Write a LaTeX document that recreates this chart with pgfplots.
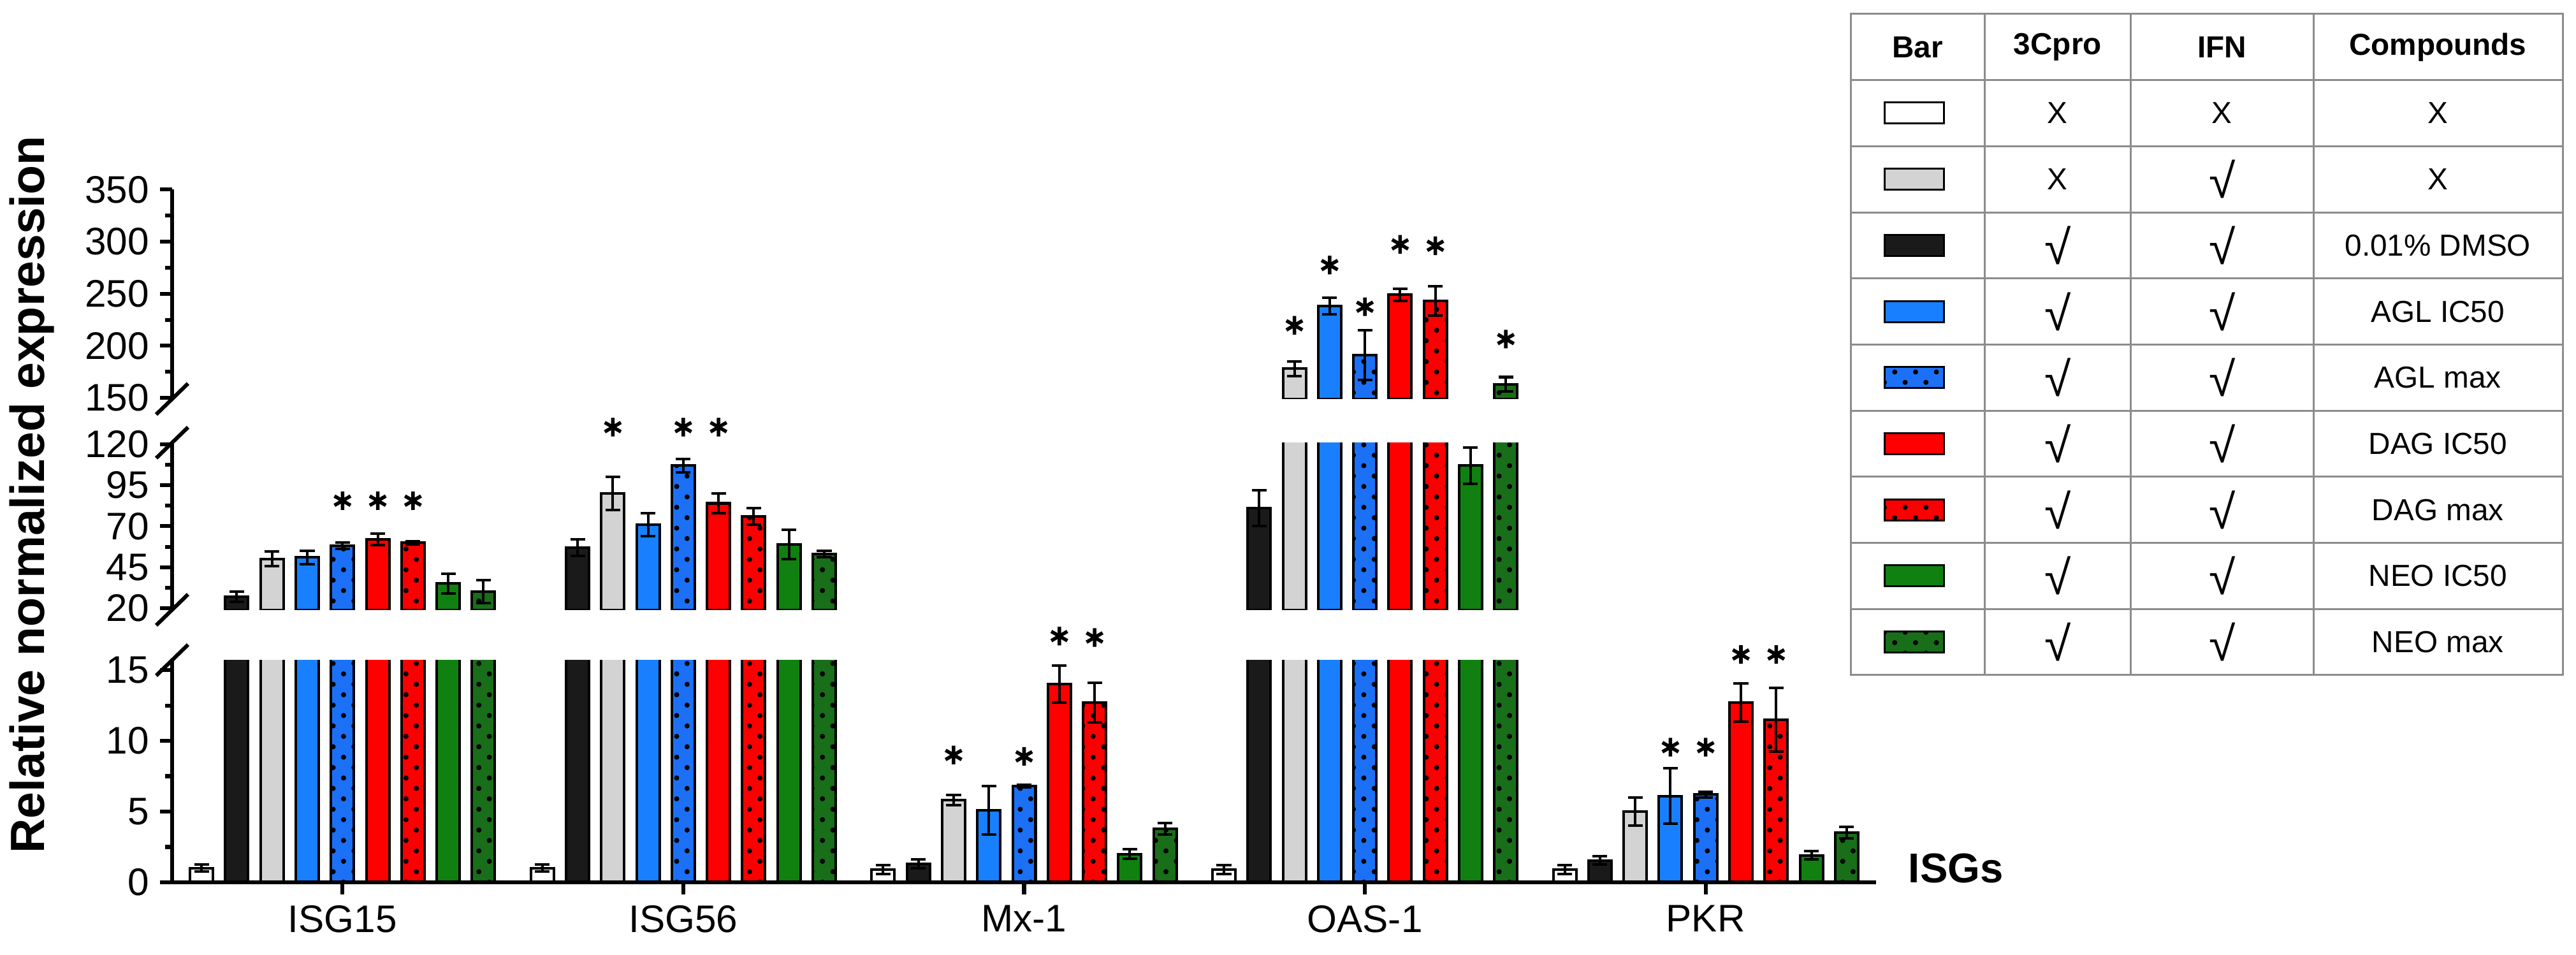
\documentclass[border=0pt]{standalone}
\usepackage{fontspec}
\setmainfont{Liberation Sans}
\usepackage{pgfplots}
\pgfplotsset{compat=1.18}
\usepackage{pgfplotstable}
\usetikzlibrary{patterns.meta}

\definecolor{cwhite}{RGB}{255,255,255}
\definecolor{cblack}{RGB}{26,26,26}
\definecolor{cgray}{RGB}{211,211,211}
\definecolor{cblue}{RGB}{24,128,255}
\definecolor{cbluedot}{RGB}{28,112,245}
\definecolor{cred}{RGB}{255,0,0}
\definecolor{creddot}{RGB}{250,0,0}
\definecolor{cgreen}{RGB}{16,128,16}
\definecolor{cgreendot}{RGB}{25,110,25}
\definecolor{tgray}{RGB}{140,140,140}

% values (v) and error (e) for the nine bars of each gene
\pgfplotstableread{
g  v0   e0    v1   e1   v2    e2    v3   e3   v4   e4   v5    e5    v6    e6   v7   e7    v8   e8
0  1.0  0.25  27   3    50    4.5   51   4    58   2    62    3.5   60    1    35   6     30   7
1  1.0  0.25  57   5    90    10    71   7    107  4    84    6     76    5    59   9     53   2
2  0.9  0.3   1.3  0.3  5.8   0.35  5.1  1.7  6.8  0.1  14.0  1.3   12.7  1.4  2.0  0.35  3.8  0.4
3  0.9  0.3   81   11   178   7     238  8    191  24   249   6     243   14   107  11    163  7
4  0.9  0.3   1.55 0.3  5.0   1.0   6.1  1.95 6.2  0.2  12.7  1.35  11.5  2.25 1.9  0.3   3.5  0.4
}\datatable

\pgfplotsset{
  bb/.style={ybar, bar width=0.0673, bar shift=0pt, draw=black, line width=0.8pt,
    /pgfplots/error bars/y dir=both, /pgfplots/error bars/y explicit,
    /pgfplots/error bars/error bar style={line width=0.8pt, black, solid},
    /pgfplots/error bars/error mark options={rotate=90, mark size=2.3pt, line width=0.8pt, black}},
  dotbar/.style={postaction={pattern={Dots[distance=4.6pt, radius=0.8pt, angle=45]}, pattern color=black}},
  seg/.style={scale only axis, width=18.711cm, xmin=-0.5, xmax=4.5,
    axis y line*=left, axis line style={-, line width=1.2pt, black},
    tick style={line width=1.2pt, black}, tick align=outside,
    major tick length=0.13cm, minor tick length=0.08cm,
    tick label style={font=\fontsize{12}{12}\selectfont},
    /pgf/number format/assume math mode=true},
  ov/.style={scale only axis, width=18.711cm, xmin=-0.5, xmax=4.5, hide axis, clip=false},
  ast/.style={only marks, mark=asterisk, mark size=2.9pt, mark options={line width=1.1pt, black}},
}

\newcommand{\bars}{%
\addplot[bb, fill=cwhite] table[x expr=\thisrow{g}-0.4136, y=v0, y error=e0]{\datatable};
\addplot[bb, fill=cblack] table[x expr=\thisrow{g}-0.3102, y=v1, y error=e1]{\datatable};
\addplot[bb, fill=cgray] table[x expr=\thisrow{g}-0.2068, y=v2, y error=e2]{\datatable};
\addplot[bb, fill=cblue] table[x expr=\thisrow{g}-0.1034, y=v3, y error=e3]{\datatable};
\addplot[bb, fill=cbluedot, dotbar] table[x expr=\thisrow{g}, y=v4, y error=e4]{\datatable};
\addplot[bb, fill=cred] table[x expr=\thisrow{g}+0.1034, y=v5, y error=e5]{\datatable};
\addplot[bb, fill=creddot, dotbar] table[x expr=\thisrow{g}+0.2068, y=v6, y error=e6]{\datatable};
\addplot[bb, fill=cgreen] table[x expr=\thisrow{g}+0.3102, y=v7, y error=e7]{\datatable};
\addplot[bb, fill=cgreendot, dotbar] table[x expr=\thisrow{g}+0.4136, y=v8, y error=e8]{\datatable};
}

\newcommand{\brk}[1]{\draw[line width=1.2pt, black] ([xshift=-0.175cm, yshift=-0.17cm]rel axis cs:0,#1) -- ([xshift=0.175cm, yshift=0.17cm]rel axis cs:0,#1);}
\newcommand{\ok}{{\fontsize{15}{15}\selectfont √}}

\begin{document}
\begin{tikzpicture}
\useasboundingbox (0,0) rectangle (28.287cm,10.486cm);

% bottom segment
\begin{axis}[seg, at={(1.89cm,0.798cm)}, anchor=south west, height=2.4395cm,
  ymin=0, ymax=15.7, ytick={0,5,10,15}, minor ytick={2.5,7.5,12.5},
  axis x line*=bottom, xtick={0,1,2,3,4}, xticklabels={ISG15,ISG56,Mx-1,OAS-1,PKR},
  axis on top]
\bars
\end{axis}
\begin{axis}[ov, at={(1.89cm,0.798cm)}, anchor=south west, height=2.4395cm, ymin=0, ymax=15.7]
\addplot[ast] coordinates {(1.7932,9.0) (2.0,8.9) (2.1034,17.4) (2.2068,17.3)
  (3.8966,9.55) (4.0,9.55) (4.1034,16.1) (4.2068,16.1)};
\brk{1}
\end{axis}

% middle segment
\begin{axis}[seg, at={(1.89cm,3.790cm)}, anchor=south west, height=1.835cm,
  ymin=19, ymax=121, ytick={20,45,70,95,120}, minor ytick={32.5,57.5,82.5,107.5},
  restrict y to domain=19:100000,
  axis x line=none, xtick=\empty]
\bars
\end{axis}
\begin{axis}[ov, at={(1.89cm,3.790cm)}, anchor=south west, height=1.835cm, ymin=19, ymax=121]
\addplot[ast] coordinates {(0,85.6) (0.1034,85.6) (0.2068,85.6)
  (0.7932,130.5) (1.0,130.5) (1.1034,130.5)};
\brk{0}
\brk{1}
\end{axis}

% top segment
\begin{axis}[seg, at={(1.89cm,6.105cm)}, anchor=south west, height=2.300cm,
  ymin=149, ymax=350, ytick={150,200,250,300,350}, minor ytick={175,225,275,325},
  restrict y to domain=149:100000,
  axis x line=none, xtick=\empty]
\bars
\end{axis}
\begin{axis}[ov, at={(1.89cm,6.105cm)}, anchor=south west, height=2.300cm, ymin=149, ymax=350]
\addplot[ast] coordinates {(2.7932,219.7) (2.8966,277.5) (3.0,237.5) (3.1034,297.4)
  (3.2068,296) (3.4136,206.5)};
\brk{0}
\end{axis}

% axis titles
\node[rotate=90, font=\bfseries\fontsize{15}{15}\selectfont] at (0.35cm,5.054cm) {Relative normalized expression};
\node[anchor=base west, inner sep=0pt, font=\bfseries\fontsize{13}{13}\selectfont] at (20.95cm,0.792cm) {ISGs};

% legend table
\def\rh{0.7259}
\begin{scope}[tgray, line width=0.6pt]
\draw (20.321,3.073) rectangle (28.14,10.332);
\foreach \k in {1,...,9} {\draw (20.321,{10.332-\k*\rh}) -- (28.14,{10.332-\k*\rh});}
\foreach \xx in {21.795,23.394,25.403} {\draw (\xx,3.073) -- (\xx,10.332);}
\end{scope}
\begin{scope}[font=\fontsize{9.5}{11}\selectfont]
\node[font=\bfseries\fontsize{9.5}{11}\selectfont] at (21.058,9.969) {Bar};
\node[font=\bfseries\fontsize{9.5}{11}\selectfont] at (22.595,9.969) {3Cpro};
\node[font=\bfseries\fontsize{9.5}{11}\selectfont] at (24.40,9.969) {IFN};
\node[font=\bfseries\fontsize{9.5}{11}\selectfont] at (26.77,9.969) {Compounds};
% rows
\foreach \k/\a/\b/\c in {1/X/X/X, 2/X/\ok/X, 3/\ok/\ok/0.01\% DMSO, 4/\ok/\ok/AGL IC50, 5/\ok/\ok/AGL max,
   6/\ok/\ok/DAG IC50, 7/\ok/\ok/DAG max, 8/\ok/\ok/NEO IC50, 9/\ok/\ok/NEO max} {
  \node at (22.595,{10.332-(\k+0.5)*\rh}) {\a};
  \node at (24.40,{10.332-(\k+0.5)*\rh}) {\b};
  \node at (26.77,{10.332-(\k+0.5)*\rh}) {\c};
}
\end{scope}
\begin{scope}[line width=0.6pt]
\filldraw[draw=black, fill=cwhite] (20.695,{10.332-1.5*\rh-0.115}) rectangle ++(0.651,0.231);
\filldraw[draw=black, fill=cgray] (20.695,{10.332-2.5*\rh-0.115}) rectangle ++(0.651,0.231);
\filldraw[draw=black, fill=cblack] (20.695,{10.332-3.5*\rh-0.115}) rectangle ++(0.651,0.231);
\filldraw[draw=black, fill=cblue] (20.695,{10.332-4.5*\rh-0.115}) rectangle ++(0.651,0.231);
\filldraw[draw=black, fill=cbluedot, postaction={pattern={Dots[distance=4.6pt, radius=0.8pt, angle=45]}, pattern color=black}] (20.695,{10.332-5.5*\rh-0.115}) rectangle ++(0.651,0.231);
\filldraw[draw=black, fill=cred] (20.695,{10.332-6.5*\rh-0.115}) rectangle ++(0.651,0.231);
\filldraw[draw=black, fill=creddot, postaction={pattern={Dots[distance=4.6pt, radius=0.8pt, angle=45]}, pattern color=black}] (20.695,{10.332-7.5*\rh-0.115}) rectangle ++(0.651,0.231);
\filldraw[draw=black, fill=cgreen] (20.695,{10.332-8.5*\rh-0.115}) rectangle ++(0.651,0.231);
\filldraw[draw=black, fill=cgreendot, postaction={pattern={Dots[distance=4.6pt, radius=0.8pt, angle=45]}, pattern color=black}] (20.695,{10.332-9.5*\rh-0.115}) rectangle ++(0.651,0.231);
\end{scope}
\end{tikzpicture}
\end{document}
